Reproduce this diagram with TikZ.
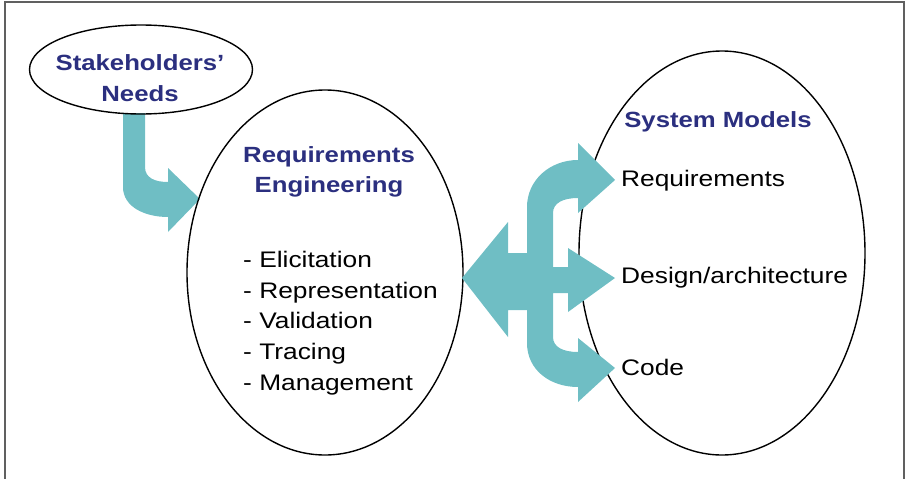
\documentclass[tikz,border=0pt]{standalone}
\usepackage{fontspec}
\setmainfont{Liberation Sans}[FakeStretch=1.17]
\usetikzlibrary{shapes.geometric}
\definecolor{navy}{HTML}{2B2F7F}
\definecolor{teal}{HTML}{6FBEC4}
\definecolor{frame}{HTML}{606060}
\begin{document}
\begin{tikzpicture}[x=1pt,y=-1pt,
  oval/.style={draw=black, line width=1.4pt, ellipse, inner sep=0pt},
  title/.style={inner sep=0pt, text=navy, font=\fontsize{22}{26}\selectfont\bfseries},
  item/.style={inner sep=0pt, text=black, font=\fontsize{22.5}{26}\selectfont},
  blockarrow/.style={fill=teal, draw=none}]
\useasboundingbox (0,0) rectangle (910,479);
\draw[frame, line width=1.5pt] (5,481) -- (5,2) -- (904,2) -- (904,481);

% Stakeholders' arrow (behind RE ellipse)
\fill[blockarrow] (123,113) -- (123,187) .. controls (123,207) and (145,217) .. (168,217)
  -- (168,232) -- (200,199) -- (168,168) -- (168,182)
  .. controls (155,182) and (145,178) .. (145,167) -- (145,113) -- cycle;

% ellipses
\node[oval, minimum width=223pt, minimum height=89pt] (sh) at (141,69.5) {};
\node[oval, minimum width=276pt, minimum height=365pt] (re) at (325,272.5) {};
\node[oval, minimum width=286pt, minimum height=404pt] (sm) at (722,253) {};

% central branching arrow (on top of SM ellipse)
\fill[blockarrow] (462,278) -- (508,222) -- (508,253) -- (527,253) -- (527,207)
  .. controls (527,180) and (550,160) .. (578,160)
  -- (578,143) -- (615,180) -- (578,213) -- (578,198)
  .. controls (563,198) and (553,203) .. (553,213)
  -- (553,267) -- (568,267) -- (568,248) -- (615,278) -- (568,312) -- (568,293)
  -- (553,293) -- (553,337)
  .. controls (553,347) and (563,352) .. (578,352)
  -- (578,338) -- (615,368) -- (578,402) -- (578,387)
  .. controls (550,387) and (527,370) .. (527,343)
  -- (527,310) -- (508,310) -- (508,337) -- cycle;

% texts
\node[title, anchor=base] (sh1) at (140,70) {Stakeholders’};
\node[title, anchor=base] (sh2) at (140,101) {Needs};
\node[title, anchor=base] (re1) at (329,162) {Requirements};
\node[title, anchor=base] (re2) at (329,192) {Engineering};
\node[item, anchor=base west] (l1) at (243,267) {- Elicitation};
\node[item, anchor=base west] (l2) at (243,298) {- Representation};
\node[item, anchor=base west] (l3) at (243,328) {- Validation};
\node[item, anchor=base west] (l4) at (243,359) {- Tracing};
\node[item, anchor=base west] (l5) at (243,390) {- Management};
\node[title, anchor=base] (sm1) at (718,127) {System Models};
\node[item, anchor=base west] (m1) at (621,186) {Requirements};
\node[item, anchor=base west] (m2) at (621,283) {Design/architecture};
\node[item, anchor=base west] (m3) at (621,375) {Code};
\end{tikzpicture}
\end{document}
